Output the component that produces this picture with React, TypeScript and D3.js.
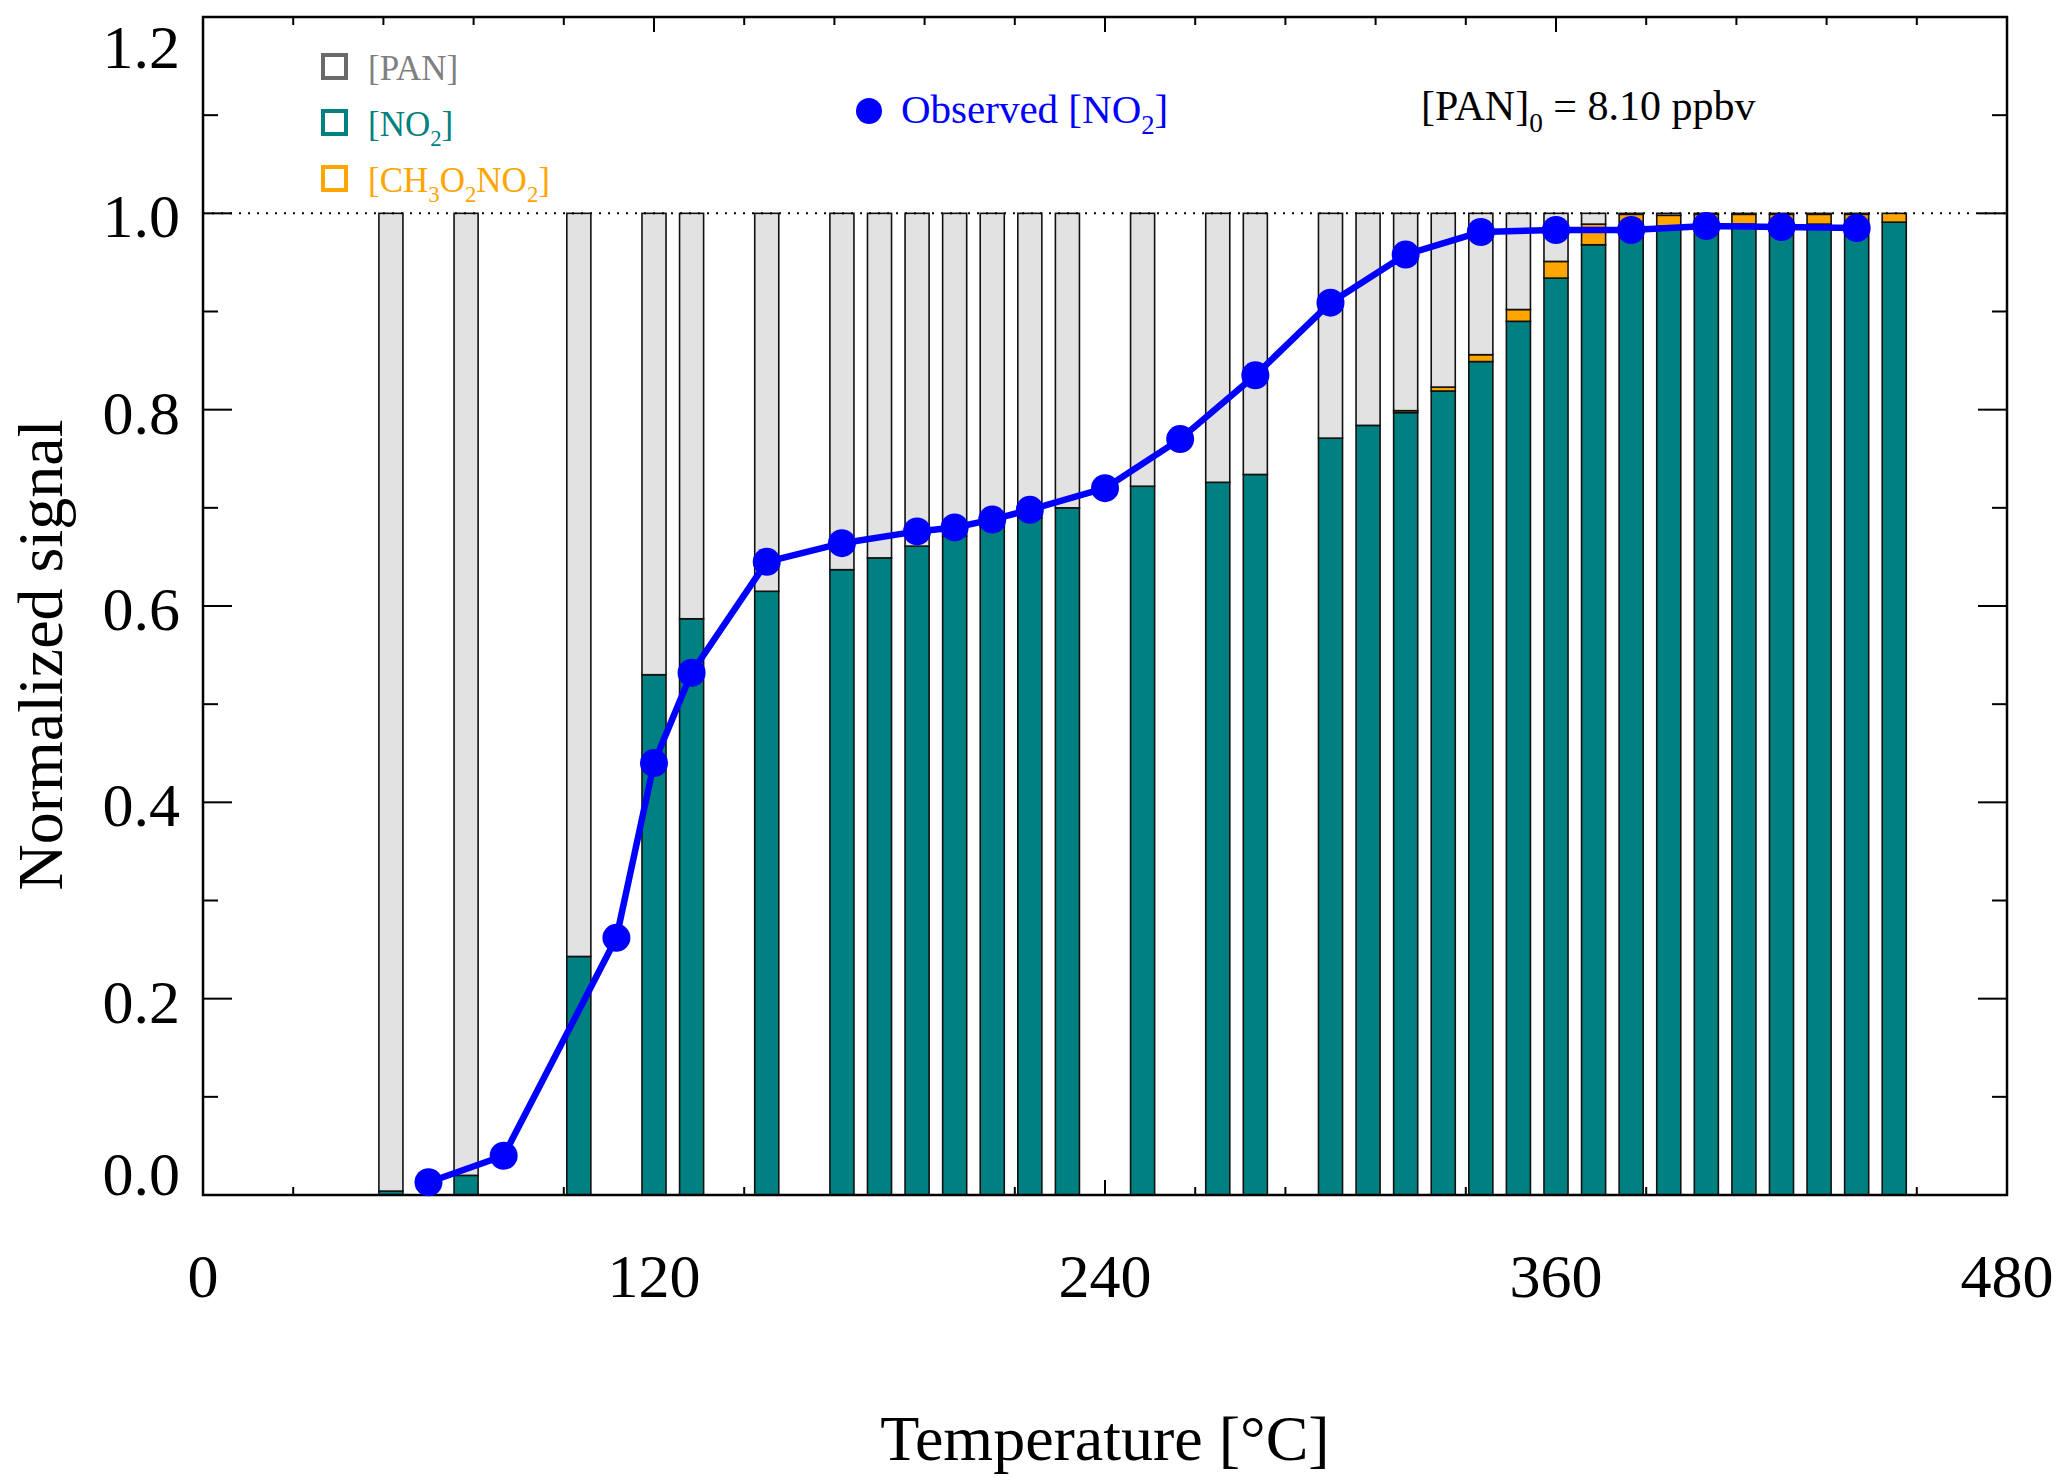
import React, { useEffect, useRef } from "react";
import * as d3 from "d3";

// bar temperatures (°C) and stacked fractions
const barTemps = [
  50, 70, 100, 120, 130, 150, 170, 180, 190, 200, 210, 220, 230, 250, 270, 280,
  300, 310, 320, 330, 340, 350, 360, 370, 380, 390, 400, 410, 420, 430, 440, 450,
];
const no2Values = [
  0.004, 0.02, 0.243, 0.53, 0.587, 0.615, 0.637, 0.649, 0.661, 0.671, 0.681,
  0.69, 0.7, 0.722, 0.726, 0.734, 0.771, 0.784, 0.797, 0.819, 0.849, 0.89,
  0.934, 0.968, 0.982, 0.987, 0.988, 0.989, 0.989, 0.989, 0.989, 0.991,
];
const ch3o2no2Values = [
  0, 0, 0, 0, 0, 0, 0, 0, 0, 0, 0, 0, 0, 0, 0, 0, 0, 0, 0.002, 0.004, 0.007,
  0.012, 0.017, 0.021, 0.017, 0.011, 0.011, 0.01, 0.01, 0.01, 0.01, 0.009,
];

// observed NO2
const obsTemps = [
  60, 80, 110, 120, 130, 150, 170, 190, 200, 210, 220, 240, 260, 280, 300, 320,
  340, 360, 380, 400, 420, 440,
];
const obsNo2 = [
  0.013, 0.04, 0.262, 0.44, 0.532, 0.645, 0.664, 0.676, 0.68, 0.688, 0.698,
  0.72, 0.77, 0.835, 0.909, 0.958, 0.981, 0.983, 0.983, 0.987, 0.986, 0.985,
];

const xTickValues = [0, 120, 240, 360, 480];
const yTickValues = [0, 0.2, 0.4, 0.6, 0.8, 1.0, 1.2];

const TEAL = "#008080";
const ORANGE = "#ffa500";
const PAN_GRAY = "#e2e2e2";
const BLUE = "#0000ff";
const FONT = "'Liberation Serif', 'Times New Roman', Times, serif";

type Part = [string, boolean]; // [text, isSubscript]

const App: React.FC = () => {
  const ref = useRef<SVGSVGElement | null>(null);

  useEffect(() => {
    if (!ref.current) return;
    const svg = d3.select(ref.current);
    svg.selectAll("*").remove();

    const left = 203;
    const right = 2007;
    const top = 17;
    const bottom = 1195;

    const x = d3.scaleLinear().domain([0, 480]).range([left, right]);
    const y = d3.scaleLinear().domain([0, 1.2]).range([bottom, top]);

    const richText = (
      g: d3.Selection<SVGGElement, unknown, null, undefined>,
      px: number,
      py: number,
      size: number,
      color: string,
      parts: Part[]
    ) => {
      const t = g
        .append("text")
        .attr("x", px)
        .attr("y", py)
        .attr("font-family", FONT)
        .attr("font-size", size)
        .attr("fill", color);
      let shifted = false;
      parts.forEach(([s, sub]) => {
        const sp = t.append("tspan").text(s);
        if (sub) {
          sp.attr("font-size", size * 0.65).attr("dy", shifted ? 0 : size * 0.28);
          shifted = true;
        } else if (shifted) {
          sp.attr("dy", -size * 0.28);
          shifted = false;
        }
      });
      return t;
    };

    const root = svg.append("g");

    // ticks (drawn first so bars cover them)
    const ticks = root.append("g").attr("stroke", "#000").attr("stroke-width", 2);
    d3.range(24, 480, 24).forEach((v) => {
      const len = v % 120 === 0 ? 15 : 8;
      ticks.append("line").attr("x1", x(v)).attr("x2", x(v)).attr("y1", bottom).attr("y2", bottom - len);
      ticks.append("line").attr("x1", x(v)).attr("x2", x(v)).attr("y1", top).attr("y2", top + len);
    });
    d3.range(1, 12).forEach((i) => {
      const v = i / 10;
      const len = i % 2 === 0 ? 29 : 15;
      ticks.append("line").attr("x1", left).attr("x2", left + len).attr("y1", y(v)).attr("y2", y(v));
      ticks.append("line").attr("x1", right).attr("x2", right - len).attr("y1", y(v)).attr("y2", y(v));
    });

    // stacked bars
    const rows = barTemps.map((t, i) => ({
      t,
      no2: no2Values[i],
      ch3: ch3o2no2Values[i],
      pan: Math.max(0, 1 - no2Values[i] - ch3o2no2Values[i]),
    }));
    const stack = d3.stack<any>().keys(["no2", "ch3", "pan"]);
    const series = stack(rows);
    const colors: Record<string, string> = { no2: TEAL, ch3: ORANGE, pan: PAN_GRAY };
    const halfW = x(3.2) - x(0);

    root
      .append("g")
      .selectAll("g")
      .data(series)
      .join("g")
      .attr("fill", (d) => colors[d.key])
      .selectAll("rect")
      .data((d) => d.filter((p) => p[1] - p[0] > 0))
      .join("rect")
      .attr("x", (d) => x(d.data.t) - halfW)
      .attr("width", halfW * 2)
      .attr("y", (d) => y(d[1]))
      .attr("height", (d) => y(d[0]) - y(d[1]))
      .attr("stroke", "#111")
      .attr("stroke-width", 1.6);

    // dotted 1.0 reference
    root
      .append("line")
      .attr("x1", left)
      .attr("x2", right)
      .attr("y1", y(1))
      .attr("y2", y(1))
      .attr("stroke", "#000")
      .attr("stroke-width", 2)
      .attr("stroke-dasharray", "2 7");

    // frame
    root
      .append("rect")
      .attr("x", left)
      .attr("y", top)
      .attr("width", right - left)
      .attr("height", bottom - top)
      .attr("fill", "none")
      .attr("stroke", "#000")
      .attr("stroke-width", 2.5);

    // observed line + dots
    const obs = obsTemps.map((t, i) => ({ t, v: obsNo2[i] }));
    root
      .append("path")
      .datum(obs)
      .attr("fill", "none")
      .attr("stroke", BLUE)
      .attr("stroke-width", 6.5)
      .attr("stroke-linejoin", "round")
      .attr(
        "d",
        d3
          .line<{ t: number; v: number }>()
          .x((d) => x(d.t))
          .y((d) => y(d.v))
      );
    root
      .append("g")
      .selectAll("circle")
      .data(obs)
      .join("circle")
      .attr("cx", (d) => x(d.t))
      .attr("cy", (d) => y(d.v))
      .attr("r", 14)
      .attr("fill", BLUE);

    // tick labels
    const labels = root
      .append("g")
      .attr("font-family", FONT)
      .attr("font-size", 62)
      .attr("fill", "#000");
    yTickValues.forEach((v) => {
      let by = y(v) + 24;
      if (v === 0) by = bottom;
      if (v === 1.2) by = top + 51;
      labels
        .append("text")
        .attr("x", 180)
        .attr("y", by)
        .attr("text-anchor", "end")
        .text(v.toFixed(1));
    });
    xTickValues.forEach((v) => {
      labels
        .append("text")
        .attr("x", x(v))
        .attr("y", 1297)
        .attr("text-anchor", "middle")
        .text(String(v));
    });

    // axis titles
    root
      .append("text")
      .attr("x", (left + right) / 2)
      .attr("y", 1460)
      .attr("text-anchor", "middle")
      .attr("font-family", FONT)
      .attr("font-size", 64)
      .text("Temperature [°C]");
    root
      .append("text")
      .attr("transform", "translate(62,655) rotate(-90)")
      .attr("text-anchor", "middle")
      .attr("font-family", FONT)
      .attr("font-size", 64)
      .text("Normalized signal");

    // legend
    const legend = root.append("g");
    const legendItems: { color: string; box: string; parts: Part[] }[] = [
      { color: "#808080", box: "#6a6a6a", parts: [["[PAN]", false]] },
      { color: TEAL, box: TEAL, parts: [["[NO", false], ["2", true], ["]", false]] },
      {
        color: ORANGE,
        box: ORANGE,
        parts: [
          ["[CH", false],
          ["3", true],
          ["O", false],
          ["2", true],
          ["NO", false],
          ["2", true],
          ["]", false],
        ],
      },
    ];
    legendItems.forEach((item, i) => {
      const base = 80 + i * 56;
      legend
        .append("rect")
        .attr("x", 323)
        .attr("y", base - 25)
        .attr("width", 23)
        .attr("height", 23)
        .attr("fill", "none")
        .attr("stroke", item.box)
        .attr("stroke-width", 4);
      richText(legend, 368, base, 35, item.color, item.parts);
    });

    legend.append("circle").attr("cx", 869).attr("cy", 111).attr("r", 13).attr("fill", BLUE);
    richText(legend, 901, 123, 41, BLUE, [
      ["Observed [NO", false],
      ["2", true],
      ["]", false],
    ]);
    richText(legend, 1421, 120, 42, "#000", [
      ["[PAN]", false],
      ["0", true],
      [" = 8.10 ppbv", false],
    ]);
  }, []);

  return (
    <>
      <style>{"body{margin:0;background:#fff}"}</style>
      <svg ref={ref} width={2067} height={1484} style={{ display: "block", background: "#fff" }} />
    </>
  );
};

export default App;
